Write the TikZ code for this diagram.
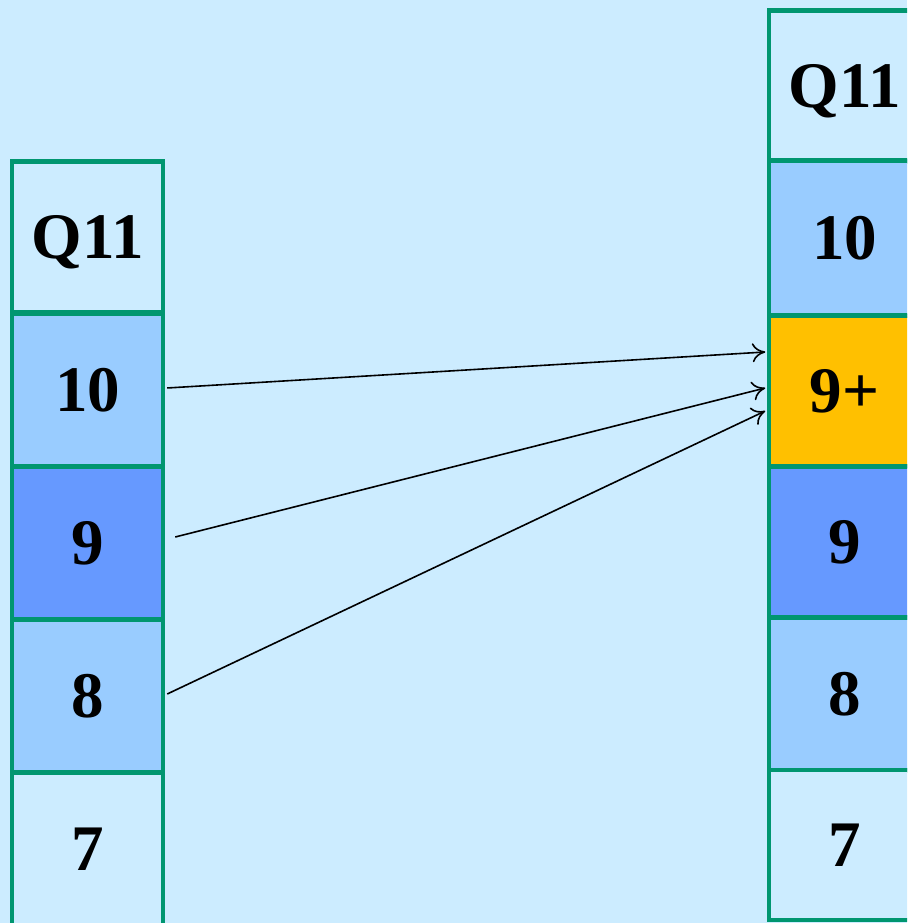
\documentclass[tikz,border=0pt]{standalone}
\usepackage{fontspec}
\setmainfont{Liberation Serif}
\usetikzlibrary{arrows.meta,calc}
\definecolor{bgc}{HTML}{CCECFF}
\definecolor{lblue}{HTML}{99CCFF}
\definecolor{dblue}{HTML}{6699FF}
\definecolor{orng}{HTML}{FFC000}
\definecolor{edge}{HTML}{009670}
\begin{document}
\begin{tikzpicture}[x=1pt,y=1pt,
  cell/.style={draw=edge,line width=4.5pt,minimum width=151pt,minimum height=152pt,inner sep=0pt,
    text depth=0pt,font=\fontsize{65}{70}\selectfont\bfseries,text=black},
  conn/.style={line width=1.6pt,-{To[length=13pt,width=19pt,line width=1.6pt]}}]
\fill[bgc] (0,0) rectangle (907,923);
\useasboundingbox (0,0) rectangle (907,923);
\begin{scope}
\clip (0,0) rectangle (907,923);
% left column (image y -> 923-y)
\node[cell,fill=bgc,minimum height=151pt]  (lq)  at (87.5,923-237) {Q11};
\node[cell,fill=lblue] (l10) at (87.5,923-390) {10};
\node[cell,fill=dblue] (l9)  at (87.5,923-543) {9};
\node[cell,fill=lblue] (l8)  at (87.5,923-696) {8};
\node[cell,fill=bgc]   (l7)  at (87.5,923-849) {7};
% right column
\node[cell,fill=bgc,minimum height=151pt]   (rq)  at (844.5,923-86) {Q11};
\node[cell,fill=lblue,minimum height=155pt] (r10) at (844.5,923-238) {10};
\node[cell,fill=orng,minimum height=150pt]  (r9p) at (844.5,923-391) {9+};
\node[cell,fill=dblue,minimum height=151pt] (r9)  at (844.5,923-542) {9};
\node[cell,fill=lblue,minimum height=153pt] (r8)  at (844.5,923-694) {8};
\node[cell,fill=bgc,minimum height=150pt]   (r7)  at (844.5,923-845) {7};
\end{scope}
\coordinate (a1) at ($(r9p.west)+(-1.5,923-352-532)$);
\coordinate (a2) at ($(r9p.west)+(-1.5,923-388-532)$);
\coordinate (a3) at ($(r9p.west)+(-1.5,923-411-532)$);
\coordinate (s1) at ($(l10.east)+(2,923-388-533)$);
\coordinate (s2) at ($(l9.east)+(10,923-537-380)$);
\coordinate (s3) at ($(l8.east)+(2,923-694-227)$);
\draw[conn] (s1) -- (a1);
\draw[conn] (s2) -- (a2);
\draw[conn] (s3) -- (a3);
\end{tikzpicture}
\end{document}
